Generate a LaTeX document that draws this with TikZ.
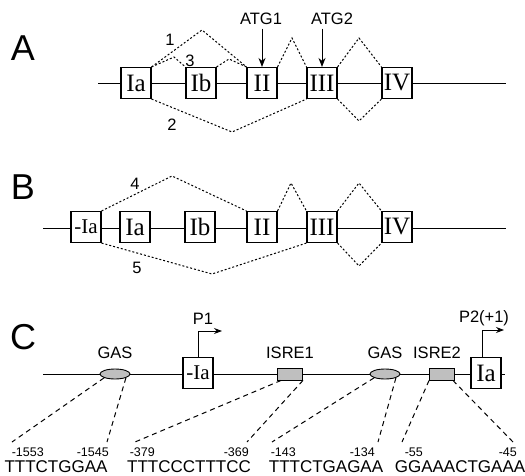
\documentclass[tikz,border=0pt]{standalone}
\usepackage{fontspec}
\setmainfont{Liberation Serif}
\setsansfont{Liberation Sans}
\usetikzlibrary{arrows.meta, calc, positioning, shapes.geometric}

\begin{document}
\begin{tikzpicture}[x=1pt, y=-1pt, line width=0.9pt,
    exon/.style={draw, line width=1.1pt, fill=white, minimum width=30pt, minimum height=31pt, inner sep=0pt, font=\fontsize{25}{25}\selectfont},
    smallexon/.style={exon, font=\fontsize{21}{21}\selectfont},
    splice/.style={dash pattern=on 2pt off 2pt, line width=1pt},
    probe/.style={dash pattern=on 5pt off 4pt, line width=1pt},
    gasbox/.style={ellipse, draw, fill=black!25, minimum width=30pt, minimum height=10pt, inner sep=0pt},
    isrebox/.style={rectangle, draw, fill=black!25, minimum width=25pt, minimum height=12pt, inner sep=0pt},
    panel/.style={font=\sffamily\fontsize{36}{36}\selectfont},
    lbl/.style={font=\sffamily\fontsize{16.5}{16.5}\selectfont},
    coordlbl/.style={font=\sffamily\fontsize{12.5}{12.5}\selectfont, anchor=west},
    seq/.style={font=\sffamily\fontsize{17}{17}\selectfont, inner sep=1pt},
    atg/.style={-{Stealth[length=9pt, width=7pt]}, line width=1pt},
    tss/.style={-{Stealth[length=8pt, width=6pt]}, line width=1pt}]
\useasboundingbox (0,0) rectangle (525,476);

% A
\node[panel] (pA) at (23,48) {A};
\draw (98,83) -- (506,83);
\node[exon] (aIa)  at (136,83) {Ia};
\node[exon] (aIb)  at (201,83) {Ib};
\node[exon] (aII)  at (262,83) {II};
\node[exon] (aIII) at (322,83) {III};
\node[exon] (aIV)  at (397,83) {IV};

\coordinate (a1)  at (202,30);
\coordinate (a3l) at (174,57);
\coordinate (a3r) at (229,59);
\coordinate (a23) at (292,38);
\coordinate (a34) at (359,38);
\coordinate (a2)  at (232,132);
\coordinate (a34b) at (359,121);
\draw[splice] (aIa.north east) -- (a1) -- (aII.north west);
\draw[splice] (aIa.north east) -- (a3l) -- (aIb.north west);
\draw[splice] (aIb.north east) -- (a3r) -- (aII.north west);
\draw[splice] (aII.north east) -- (a23) -- (aIII.north west);
\draw[splice] (aIII.north east) -- (a34) -- (aIV.north west);
\draw[splice] (aIa.south east) -- (a2) -- (aIII.south west);
\draw[splice] (aIII.south east) -- (a34b) -- (aIV.south west);
\node[lbl] (n1) at (170,40) {1};
\node[lbl] (n3) at (190,61) {3};
\node[lbl] (n2) at (172,125) {2};

\node[lbl] (atg1) at (261,19) {ATG1};
\node[lbl] (atg2) at (332,19) {ATG2};
\draw[atg] (atg1.south -| aII.north) -- (aII.north);
\draw[atg] (atg2.south -| aIII.north) -- (aIII.north);

% B
\node[panel] (pB) at (23,187) {B};
\draw (43,228) -- (506,228);
\node[smallexon] (bIz)  at (86,227)  {-Ia};
\node[exon] (bIa)  at (135,227) {Ia};
\node[exon] (bIb)  at (200,227) {Ib};
\node[exon] (bII)  at (262,227) {II};
\node[exon] (bIII) at (322,227) {III};
\node[exon] (bIV)  at (397,227) {IV};

\coordinate (b4)  at (172,176);
\coordinate (b23) at (291,183);
\coordinate (b34) at (359,183);
\coordinate (b5)  at (212,274);
\coordinate (b34b) at (359,266);
\draw[splice] (bIz.north east) -- (b4) -- (bII.north west);
\draw[splice] (bII.north east) -- (b23) -- (bIII.north west);
\draw[splice] (bIII.north east) -- (b34) -- (bIV.north west);
\draw[splice] (bIz.south east) -- (b5) -- (bIII.south west);
\draw[splice] (bIII.south east) -- (b34b) -- (bIV.south west);
\node[lbl] (n4) at (135,184) {4};
\node[lbl] (n5) at (137,268) {5};

% C
\node[panel] (pC) at (23,337) {C};
\draw (43,374) -- (505,374);
\node[gasbox]  (gas1)  at (115,374) {};
\node[smallexon] (cIz) at (198,373) {-Ia};
\node[isrebox] (isre1) at (290,374) {};
\node[gasbox]  (gas2)  at (385,374) {};
\node[isrebox] (isre2) at (442,374) {};
\node[exon]    (cIa)   at (486,373) {Ia};

\node[lbl] at (115,353) {GAS};
\node[lbl] at (290,353) {ISRE1};
\node[lbl] at (385,353) {GAS};
\node[lbl] at (437,353) {ISRE2};

\coordinate (p1) at (222,331);
\coordinate (p2) at (504,330);
\draw[tss] (cIz.north) |- (p1);
\draw[tss] (cIa.north -| 482,0) |- (p2);
\node[lbl] (lp1) at (203,319) {P1};
\node[lbl] (lp2) at (484,318) {P2(+1)};

\coordinate (g1l) at (12,442);
\coordinate (g1r) at (107,442);
\coordinate (i1l) at (135,442);
\coordinate (i1r) at (247,442);
\coordinate (g2l) at (272,442);
\coordinate (g2r) at (378,442);
\coordinate (i2l) at (402,442);
\coordinate (i2r) at (513,442);
\draw[probe] (gas1.south west) -- (g1l);
\draw[probe] (gas1.south east) -- (g1r);
\draw[probe] ($(isre1.south west)+(4,0)$) -- (i1l);
\draw[probe] (isre1.south east) -- (i1r);
\draw[probe] (gas2.south west) -- (g2l);
\draw[probe] (gas2.south east) -- (g2r);
\draw[probe] (isre2.south west) -- (i2l);
\draw[probe] ($(isre2.south east)+(-2,0)$) -- (i2r);

\node[coordlbl] at (8,452)   {-1553};
\node[coordlbl] at (73,452)  {-1545};
\node[coordlbl] at (126,452) {-379};
\node[coordlbl] at (220,452) {-369};
\node[coordlbl] at (267,452) {-143};
\node[coordlbl] at (346,452) {-134};
\node[coordlbl] at (401,452) {-55};
\node[coordlbl] at (495,452) {-45};

\node[seq] at (56,467)  {TTTCTGGAA};
\node[seq] at (189,467) {TTTCCCTTTCC};
\node[seq] at (326,467) {TTTCTGAGAA};
\node[seq] at (460,467) {GGAAACTGAAA};
\end{tikzpicture}
\end{document}
